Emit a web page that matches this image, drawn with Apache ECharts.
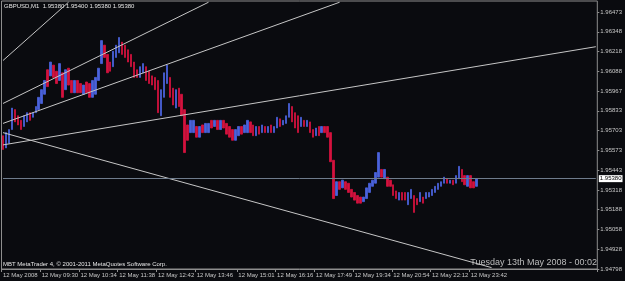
<!DOCTYPE html>
<html>
<head>
<meta charset="utf-8">
<script src="https://cdn.jsdelivr.net/npm/echarts@6/dist/echarts.min.js"></script>
<style>
html, body { margin: 0; padding: 0; background: #0a0b0f; }
#chart { width: 625px; height: 281px; }
</style>
</head>
<body>
<div id="chart"></div>
<script>
"use strict";
// price scale labels on the right, bottom to top
const yLabels = ["1.94798", "1.94928", "1.95058", "1.95188", "1.95318", "1.95443", "1.95573", "1.95703", "1.95833", "1.95967", "1.96088", "1.96218", "1.96348", "1.96473"];
// time labels and the slot each one sits on
const tickLabels = ["12 May 2008", "12 May 09:30", "12 May 10:34", "12 May 11:38", "12 May 12:42", "12 May 13:46", "12 May 15:01", "12 May 16:16", "12 May 17:49", "12 May 19:34", "12 May 20:54", "12 May 22:12", "12 May 23:42"];
const tickIdx = [0, 13, 26, 39, 52, 65, 79, 92, 105, 118, 131, 144, 157];
const slotCount = 200;

// bar highs / lows (GBPUSD M1)
const hi = [
    1.9566, 1.9568, 1.9570, 1.9584, 1.9583, 1.9579, 1.9576, 1.9579, 1.9581, 1.9581,
    1.9581, 1.9585, 1.9591, 1.9596, 1.9602, 1.9609, 1.9614, 1.9612, 1.9608, 1.9613,
    1.9607, 1.9609, 1.9610, 1.9602, 1.9602, 1.9602, 1.9600, 1.9599, 1.9601, 1.9600,
    1.9602, 1.9604, 1.9610, 1.9628, 1.9625, 1.9619, 1.9614, 1.9621, 1.9625, 1.9630,
    1.9627, 1.9625, 1.9622, 1.9619, 1.9614, 1.9609, 1.9611, 1.9613, 1.9611, 1.9608,
    1.9605, 1.9604, 1.9602, 1.9596, 1.9607, 1.9612, 1.9604, 1.9597, 1.9596, 1.9597,
    1.9593, 1.9583, 1.9573, 1.9576, 1.9576, 1.9572, 1.9572, 1.9573, 1.9574, 1.9574,
    1.9576, 1.9576, 1.9576, 1.9576, 1.9576, 1.9574, 1.9572, 1.9570, 1.9570, 1.9572,
    1.9572, 1.9573, 1.9576, 1.9575, 1.9573, 1.9572, 1.9572, 1.9573, 1.9572, 1.9572,
    1.9573, 1.9572, 1.9578, 1.9577, 1.9576, 1.9579, 1.9587, 1.9585, 1.9581, 1.9579,
    1.9578, 1.9576, 1.9576, 1.9575, 1.9570, 1.9571, 1.9572, 1.9572, 1.9572, 1.9572,
    1.9568, 1.9550, 1.9536, 1.9536, 1.9537, 1.9536, 1.9535, 1.9531, 1.9529, 1.9527,
    1.9526, 1.9526, 1.9532, 1.9535, 1.9537, 1.9542, 1.9555, 1.9544, 1.9544, 1.9539,
    1.9537, 1.9534, 1.9530, 1.9529, 1.9529, 1.9529, 1.9529, 1.9531, 1.9527, 1.9525,
    1.9529, 1.9526, 1.9529, 1.9529, 1.9531, 1.9533, 1.9535, 1.9536, 1.9539, 1.9538,
    1.9537, 1.9537, 1.9540, 1.9546, 1.9544, 1.9540, 1.9540, 1.9540, 1.9536, 1.9538,
];
const lo = [
    1.9557, 1.9558, 1.9561, 1.9570, 1.9575, 1.9573, 1.9570, 1.9572, 1.9575, 1.9576,
    1.9578, 1.9581, 1.9583, 1.9587, 1.9593, 1.9598, 1.9605, 1.9604, 1.9600, 1.9602,
    1.9591, 1.9596, 1.9599, 1.9594, 1.9594, 1.9594, 1.9594, 1.9593, 1.9594, 1.9591,
    1.9591, 1.9593, 1.9602, 1.9613, 1.9617, 1.9607, 1.9608, 1.9611, 1.9617, 1.9620,
    1.9619, 1.9617, 1.9614, 1.9611, 1.9604, 1.9604, 1.9604, 1.9607, 1.9602, 1.9600,
    1.9599, 1.9596, 1.9581, 1.9579, 1.9591, 1.9600, 1.9591, 1.9586, 1.9584, 1.9585,
    1.9579, 1.9555, 1.9563, 1.9568, 1.9568, 1.9565, 1.9565, 1.9568, 1.9568, 1.9568,
    1.9571, 1.9572, 1.9570, 1.9570, 1.9571, 1.9567, 1.9565, 1.9563, 1.9563, 1.9566,
    1.9567, 1.9568, 1.9568, 1.9568, 1.9566, 1.9566, 1.9567, 1.9568, 1.9568, 1.9568,
    1.9568, 1.9568, 1.9571, 1.9572, 1.9573, 1.9574, 1.9578, 1.9575, 1.9571, 1.9568,
    1.9572, 1.9572, 1.9572, 1.9568, 1.9565, 1.9566, 1.9566, 1.9568, 1.9568, 1.9565,
    1.9549, 1.9525, 1.9527, 1.9531, 1.9532, 1.9531, 1.9529, 1.9526, 1.9524, 1.9522,
    1.9522, 1.9523, 1.9525, 1.9529, 1.9533, 1.9535, 1.9539, 1.9539, 1.9538, 1.9533,
    1.9533, 1.9527, 1.9525, 1.9524, 1.9524, 1.9524, 1.9521, 1.9525, 1.9516, 1.9521,
    1.9523, 1.9522, 1.9525, 1.9526, 1.9527, 1.9529, 1.9531, 1.9533, 1.9535, 1.9535,
    1.9535, 1.9534, 1.9535, 1.9538, 1.9536, 1.9534, 1.9533, 1.9532, 1.9532, 1.9533,
];
// 1 = up bar (blue), 0 = down bar (red)
const dir = [
    0, 1, 1, 1, 0, 0, 0, 1, 1, 0,
    1, 1, 1, 1, 1, 0, 1, 0, 0, 1,
    0, 1, 0, 0, 1, 0, 0, 1, 0, 0,
    1, 1, 1, 1, 0, 0, 0, 1, 1, 1,
    0, 0, 0, 0, 0, 0, 1, 1, 0, 0,
    0, 0, 0, 1, 1, 1, 0, 0, 1, 0,
    0, 0, 0, 1, 1, 0, 1, 0, 1, 1,
    0, 1, 0, 1, 0, 0, 0, 0, 1, 1,
    0, 1, 1, 0, 0, 1, 0, 1, 0, 1,
    0, 1, 1, 0, 1, 1, 1, 0, 0, 0,
    1, 0, 1, 0, 0, 1, 0, 1, 0, 0,
    0, 0, 1, 0, 1, 0, 0, 0, 0, 0,
    0, 1, 1, 1, 1, 1, 1, 0, 1, 0,
    0, 0, 0, 1, 0, 0, 1, 1, 0, 0,
    1, 0, 1, 1, 1, 1, 1, 1, 1, 0,
    1, 0, 1, 1, 0, 0, 1, 0, 0, 1,
];
const lastPrice = 1.95380;
// trendlines: [slot, price] -> [slot, price]
const trendLines = [
    [[0, 1.9615], [22, 1.9653]],
    [[0, 1.9587], [69, 1.9653]],
    [[0, 1.9574], [113, 1.9653]],
    [[0, 1.9560], [199, 1.9624]],
    [[0, 1.9568], [164, 1.9480]],
];
const priceMin = 1.94791;
const priceMax = 1.96538;

const cats = [];
for (let i = 0; i < slotCount; i++) {
    const t = tickIdx.indexOf(i);
    cats.push(t >= 0 ? tickLabels[t] : String(i));
}
const bars = hi.map((h, i) => dir[i] ? [lo[i], h, lo[i], h] : [h, lo[i], lo[i], h]);
const showTick = (idx) => tickIdx.includes(idx);
const font = "Liberation Sans";
const frame = "#8e8e8e";

const chart = echarts.init(document.getElementById("chart"), null, { renderer: "canvas" });
chart.setOption({
    animation: false,
    backgroundColor: "#0a0b0f",
    textStyle: { fontFamily: font },
    grid: { left: 1, right: 24, top: 1, bottom: 12, show: true, borderColor: frame, borderWidth: 1, backgroundColor: "#0a0b0f" },
    xAxis: {
        type: "category",
        data: cats,
        boundaryGap: true,
        axisLine: { show: true, lineStyle: { color: frame } },
        axisTick: { show: true, length: 3, interval: showTick, lineStyle: { color: frame } },
        axisLabel: { interval: showTick, align: "left", margin: 3, fontSize: 6, color: "#c8c8c8", fontFamily: font },
        splitLine: { show: false },
    },
    yAxis: [
        {
            type: "value",
            min: priceMin,
            max: priceMax,
            show: false,
            splitLine: { show: false },
        },
        {
            // label scale: one unit per printed price step, counted from the frame bottom
            type: "value",
            position: "right",
            min: 0,
            max: 13.556,
            interval: 1,
            axisLine: { show: false },
            axisTick: { show: true, length: 2, lineStyle: { color: frame } },
            axisLabel: {
                margin: 3,
                fontSize: 6,
                color: "#c8c8c8",
                fontFamily: font,
                showMaxLabel: false,
                formatter: (v) => yLabels[Math.round(v)] || "",
            },
            splitLine: { show: false },
        },
    ],
    graphic: [
        { type: "text", left: 4, top: 3, style: { text: "GBPUSD,M1  1.95380 1.95400 1.95380 1.95380", fill: "#e6e6e6", font: "6px " + font } },
        { type: "text", left: 3, top: 261, style: { text: "MBT MetaTrader 4, © 2001-2011 MetaQuotes Software Corp.", fill: "#e6e6e6", font: "6px " + font } },
        { type: "text", right: 28, top: 258, style: { text: "Tuesday 13th May 2008 - 00:02", fill: "#bcbcbc", font: "9px " + font } },
    ],
    series: [
        {
            type: "candlestick",
            yAxisIndex: 0,
            data: bars,
            barWidth: 2,
            itemStyle: {
                color: "#4a62dc",
                color0: "#d4123e",
                borderColor: "#4a62dc",
                borderColor0: "#d4123e",
                borderWidth: 0.8,
            },
            markLine: {
                silent: true,
                symbol: "none",
                animation: false,
                lineStyle: { color: "#c6c6c6", width: 1, type: "solid" },
                label: { show: false },
                data: [
                    ...trendLines.map(([a, b]) => [{ coord: a }, { coord: b }]),
                    [
                        {
                            coord: [0, lastPrice],
                            lineStyle: { color: "#6f7c8c", width: 1, type: "solid" },
                            label: {
                                show: true,
                                position: "end",
                                distance: 3,
                                formatter: lastPrice.toFixed(5),
                                backgroundColor: "#ffffff",
                                color: "#000000",
                                fontSize: 6,
                                fontFamily: font,
                                padding: [1, 1, 0, 1],
                            },
                        },
                        { coord: [slotCount - 1, lastPrice] },
                    ],
                ],
            },
        },
    ],
});
</script>
</body>
</html>
